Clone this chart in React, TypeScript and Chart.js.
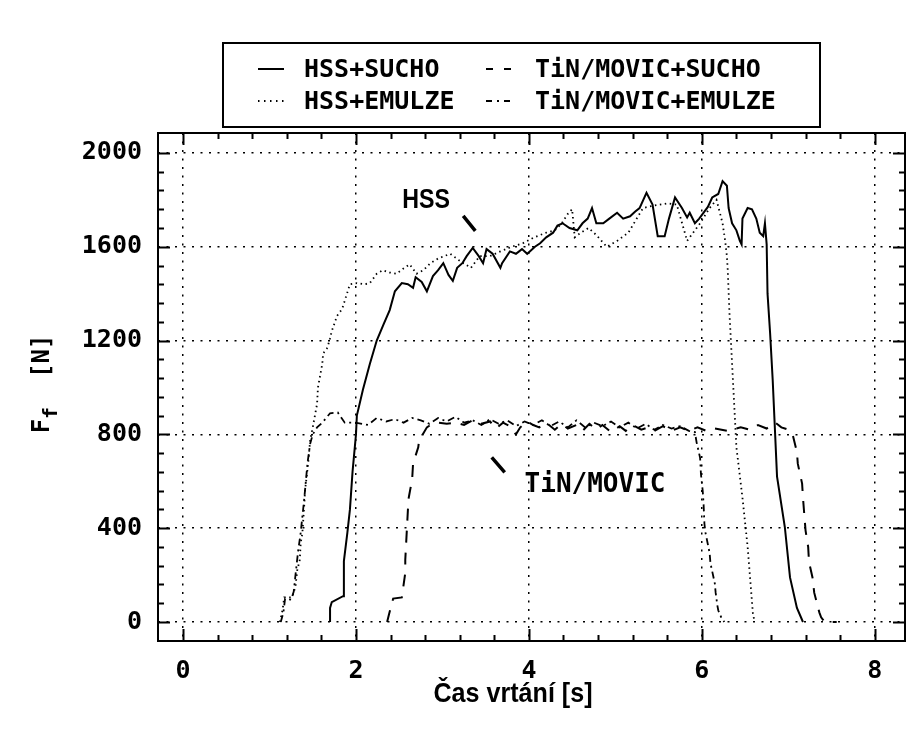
import React, { useEffect, useRef } from 'react';
import { Chart, registerables } from 'chart.js';

Chart.register(...registerables);

// ---------- axis ticks ----------
const X_TICKS = [0, 2, 4, 6, 8];
const Y_TICKS = [0, 400, 800, 1200, 1600, 2000];
const X_MINOR_STEP = 0.4;
const Y_MINOR_STEP = 80;
const X_TITLE = 'Čas vrtání [s]';

// ---------- series: HSS + SUCHO (solid) ----------
const hssSuchoT = [
  1.70, 1.70, 1.72, 1.85, 1.86, 1.90, 1.93, 1.96, 2.00, 2.01,
  2.08, 2.16, 2.24, 2.32, 2.39, 2.45, 2.53, 2.60, 2.66, 2.69,
  2.76, 2.82, 2.89, 2.95, 3.01, 3.07, 3.12, 3.17, 3.23, 3.28,
  3.35, 3.42, 3.47, 3.51, 3.58, 3.67, 3.69, 3.78, 3.85, 3.92,
  3.98, 4.01, 4.07, 4.13, 4.20, 4.28, 4.33, 4.39, 4.47, 4.56,
  4.62, 4.68, 4.73, 4.78, 4.86, 4.93, 5.02, 5.09, 5.17, 5.23,
  5.28, 5.36, 5.43, 5.49, 5.57, 5.62, 5.69, 5.77, 5.83, 5.86,
  5.92, 5.97, 6.01, 6.07, 6.12, 6.19, 6.24, 6.29, 6.31, 6.35,
  6.40, 6.44, 6.46, 6.47, 6.53, 6.58, 6.63, 6.67, 6.71, 6.73,
  6.75, 6.76, 6.79, 6.82, 6.87, 6.96, 7.02, 7.10, 7.17,
];
const hssSuchoF = [
  0, 60, 85, 110, 260, 380, 480, 640, 800, 880,
  990, 1100, 1200, 1270, 1330, 1410, 1445, 1440, 1425, 1470,
  1450, 1410, 1475, 1500, 1530, 1480, 1455, 1510, 1530, 1560,
  1595, 1560, 1530, 1590, 1570, 1510, 1530, 1580, 1570, 1590,
  1570, 1580, 1600, 1615, 1640, 1660, 1690, 1700, 1680, 1670,
  1700, 1720, 1765, 1700, 1700, 1720, 1745, 1720, 1730, 1750,
  1765, 1830, 1780, 1645, 1645, 1720, 1810, 1765, 1725, 1745,
  1700, 1720, 1740, 1770, 1810, 1825, 1880, 1860, 1765, 1700,
  1670, 1625, 1610, 1720, 1765, 1760, 1720, 1660, 1645, 1700,
  1610, 1400, 1230, 1030, 620, 405, 190, 60, 0,
];

// ---------- series: HSS + EMULZE (dotted) ----------
const hssEmulzeT = [
  1.12, 1.15, 1.17, 1.26, 1.30, 1.32, 1.35, 1.36, 1.38, 1.39,
  1.40, 1.41, 1.43, 1.45, 1.47, 1.50, 1.55, 1.56, 1.58, 1.61,
  1.62, 1.67, 1.70, 1.72, 1.78, 1.84, 1.87, 1.93, 2.01, 2.10,
  2.16, 2.24, 2.31, 2.39, 2.47, 2.54, 2.62, 2.70, 2.78, 2.86,
  2.95, 3.09, 3.20, 3.33, 3.43, 3.55, 3.67, 3.80, 3.93, 4.06,
  4.20, 4.30, 4.38, 4.45, 4.50, 4.53, 4.60, 4.69, 4.78, 4.84,
  4.90, 5.02, 5.15, 5.32, 5.44, 5.60, 5.71, 5.83, 5.98, 6.09,
  6.17, 6.24, 6.27, 6.29, 6.30, 6.32, 6.36, 6.40, 6.47, 6.53,
  6.59, 6.61,
];
const hssEmulzeF = [
  0, 50, 105, 105, 150, 220, 265, 335, 380, 435,
  490, 560, 620, 690, 775, 830, 930, 1000, 1040, 1100,
  1145, 1170, 1210, 1240, 1305, 1335, 1370, 1440, 1445, 1440,
  1445, 1485, 1500, 1490, 1485, 1505, 1525, 1485, 1500, 1530,
  1550, 1570, 1540, 1510, 1560, 1560, 1580, 1600, 1615, 1640,
  1660, 1670, 1700, 1740, 1760, 1640, 1660, 1680, 1650, 1625,
  1600, 1625, 1660, 1765, 1775, 1785, 1780, 1625, 1700, 1765,
  1800, 1700, 1625, 1560, 1500, 1315, 1030, 745, 530, 320,
  40, 0,
];

// ---------- series: TiN/MOVIC + SUCHO (dashed) ----------
const tinSuchoT = [
  2.36, 2.38, 2.43, 2.53, 2.54, 2.57, 2.57, 2.58, 2.59, 2.60,
  2.61, 2.65, 2.66, 2.72, 2.73, 2.78, 2.82, 2.88, 2.95, 3.05,
  3.15, 3.25, 3.35, 3.45, 3.55, 3.62, 3.70, 3.78, 3.85, 3.90,
  3.98, 4.05, 4.12, 4.20, 4.30, 4.38, 4.45, 4.55, 4.62, 4.70,
  4.78, 4.85, 4.95, 5.05, 5.12, 5.20, 5.30, 5.38, 5.45, 5.55,
  5.65, 5.75, 5.85, 5.95, 6.05, 6.15, 6.30, 6.45, 6.55, 6.65,
  6.75, 6.85, 6.92, 7.00, 7.05, 7.10, 7.11, 7.16, 7.17, 7.19,
  7.20, 7.23, 7.24, 7.28, 7.30, 7.36, 7.38, 7.42, 7.56,
];
const tinSuchoF = [
  0, 30, 100, 105, 130, 210, 265, 335, 405, 475,
  530, 610, 675, 745, 775, 805, 830, 845, 850, 845,
  850, 840, 860, 845, 855, 825, 850, 835, 800, 830,
  855, 840, 830, 850, 820, 845, 825, 840, 815, 845,
  820, 840, 810, 835, 815, 840, 820, 830, 815, 835,
  815, 830, 815, 830, 815, 825, 815, 830, 820, 840,
  825, 850, 830, 820, 800, 725, 675, 590, 530, 435,
  390, 320, 255, 190, 125, 40, 20, 0, 0,
];

// ---------- series: TiN/MOVIC + EMULZE (dash-dot) ----------
const tinEmulzeT = [
  1.13, 1.16, 1.18, 1.25, 1.28, 1.30, 1.33, 1.36, 1.38, 1.40,
  1.42, 1.44, 1.47, 1.50, 1.55, 1.61, 1.70, 1.79, 1.87, 1.99,
  2.14, 2.24, 2.35, 2.45, 2.55, 2.65, 2.75, 2.85, 2.95, 3.05,
  3.15, 3.25, 3.35, 3.45, 3.55, 3.65, 3.75, 3.85, 3.95, 4.05,
  4.15, 4.25, 4.35, 4.45, 4.55, 4.65, 4.75, 4.85, 4.95, 5.05,
  5.15, 5.25, 5.35, 5.45, 5.55, 5.65, 5.75, 5.85, 5.92, 5.94,
  5.98, 5.99, 6.01, 6.02, 6.03, 6.04, 6.09, 6.10, 6.15, 6.16,
  6.18, 6.19, 6.23, 6.26,
];
const tinEmulzeF = [
  0, 40, 100, 95, 130, 200, 300, 380, 450, 520,
  600, 680, 760, 800, 830, 850, 890, 893, 850, 850,
  840, 870, 855, 865, 850, 870, 860, 845, 870, 855,
  875, 850, 860, 840, 865, 845, 860, 835, 855, 840,
  860, 835, 855, 830, 860, 830, 850, 835, 855, 830,
  850, 825, 845, 820, 840, 825, 835, 815, 810, 765,
  700, 630, 560, 505, 420, 385, 295, 250, 165, 125,
  70, 50, 15, 0,
];

const SERIES_LABELS = ['HSS+SUCHO', 'HSS+EMULZE', 'TiN/MOVIC+SUCHO', 'TiN/MOVIC+EMULZE'];

// annotation labels (in data coordinates)
const ANNOT_TEXT = ['HSS', 'TiN/MOVIC'];
const ANNOT_X = [2.81, 3.95];
const ANNOT_Y = [1796, 583];
const POINTER_FROM = [[3.24, 1732], [3.57, 702]];
const POINTER_TO = [[3.38, 1668], [3.72, 638]];

const MONO = '"DejaVu Sans Mono", "Liberation Mono", monospace';
const SANS = '"Liberation Sans", Arial, sans-serif';

const toPts = (t: number[], f: number[]) => t.map((x, i) => ({ x, y: f[i] }));

const LEGEND_DASH: number[][] = [[], [1.5, 4.5], [7, 11], [6, 5, 2, 5]];

const legendPlugin = {
  id: 'boxLegend',
  afterDraw(chart: any) {
    const ctx = chart.ctx as CanvasRenderingContext2D;
    const ds = chart.data.datasets;
    ctx.save();
    ctx.strokeStyle = '#000';
    ctx.lineWidth = 2;
    ctx.strokeRect(223, 43, 597, 84);
    const colSample = [258, 486];
    const colText = [304, 535];
    const rowY = [69, 101];
    ds.forEach((d: any, i: number) => {
      const col = i < 2 ? 0 : 1;
      const row = i % 2;
      const y = rowY[row];
      ctx.beginPath();
      ctx.setLineDash(LEGEND_DASH[i]);
      ctx.lineWidth = i === 0 ? 2 : 1.8;
      ctx.moveTo(colSample[col], y);
      ctx.lineTo(colSample[col] + 26, y);
      ctx.stroke();
      ctx.setLineDash([]);
      ctx.fillStyle = '#000';
      ctx.font = `bold 25px ${MONO}`;
      ctx.textBaseline = 'middle';
      ctx.textAlign = 'left';
      ctx.fillText(d.label, colText[col], y + 1);
    });
    ctx.restore();
  },
};

const framePlugin = {
  id: 'frameTicks',
  afterDraw(chart: any) {
    const ctx = chart.ctx as CanvasRenderingContext2D;
    const a = chart.chartArea;
    const xs = chart.scales.x;
    const ys = chart.scales.y;
    ctx.save();
    ctx.strokeStyle = '#000';
    ctx.setLineDash([]);
    ctx.lineWidth = 2;
    ctx.strokeRect(a.left, a.top, a.right - a.left, a.bottom - a.top);
    ctx.beginPath();
    const nx = Math.round(X_TICKS[X_TICKS.length - 1] / X_MINOR_STEP);
    for (let i = 0; i <= nx; i++) {
      const v = i * X_MINOR_STEP;
      const major = X_TICKS.some((t) => Math.abs(t - v) < 1e-6);
      const len = major ? 12 : 6;
      const px = Math.round(xs.getPixelForValue(v)) + 0.5;
      ctx.moveTo(px, a.bottom);
      ctx.lineTo(px, a.bottom - len);
      ctx.moveTo(px, a.top);
      ctx.lineTo(px, a.top + len);
    }
    const ny = Math.round(Y_TICKS[Y_TICKS.length - 1] / Y_MINOR_STEP);
    for (let i = 0; i <= ny; i++) {
      const v = i * Y_MINOR_STEP;
      const major = Y_TICKS.some((t) => Math.abs(t - v) < 1e-6);
      const len = major ? 12 : 6;
      const py = Math.round(ys.getPixelForValue(v)) + 0.5;
      ctx.moveTo(a.left, py);
      ctx.lineTo(a.left + len, py);
      ctx.moveTo(a.right, py);
      ctx.lineTo(a.right - len, py);
    }
    ctx.lineWidth = 2;
    ctx.stroke();

    ctx.fillStyle = '#000';
    ctx.textBaseline = 'middle';

    // annotations
    ctx.save();
    ctx.translate(xs.getPixelForValue(ANNOT_X[0]), ys.getPixelForValue(ANNOT_Y[0]));
    ctx.scale(0.86, 1);
    ctx.font = `bold 27px ${SANS}`;
    ctx.textAlign = 'center';
    ctx.fillText(ANNOT_TEXT[0], 0, 0);
    ctx.restore();
    ctx.font = `bold 26px ${MONO}`;
    ctx.textAlign = 'left';
    ctx.fillText(ANNOT_TEXT[1], xs.getPixelForValue(ANNOT_X[1]), ys.getPixelForValue(ANNOT_Y[1]));
    ctx.lineWidth = 3.5;
    ctx.beginPath();
    for (let i = 0; i < POINTER_FROM.length; i++) {
      ctx.moveTo(xs.getPixelForValue(POINTER_FROM[i][0]), ys.getPixelForValue(POINTER_FROM[i][1]));
      ctx.lineTo(xs.getPixelForValue(POINTER_TO[i][0]), ys.getPixelForValue(POINTER_TO[i][1]));
    }
    ctx.stroke();

    // x-axis title
    ctx.save();
    ctx.translate(513, 695);
    ctx.scale(0.93, 1);
    ctx.font = `bold 27px ${SANS}`;
    ctx.textAlign = 'center';
    ctx.textBaseline = 'middle';
    ctx.fillText(X_TITLE, 0, 0);
    ctx.restore();

    // y-axis title with subscript
    ctx.save();
    ctx.translate(43, 384);
    ctx.rotate(-Math.PI / 2);
    const main = `bold 24px ${MONO}`;
    const sub = `bold 20px ${MONO}`;
    ctx.font = main;
    const wF = ctx.measureText('F').width;
    const wR = ctx.measureText('  [N]').width;
    ctx.font = sub;
    const wf = ctx.measureText('f').width;
    let x = -(wF + wf + wR) / 2;
    ctx.textAlign = 'left';
    ctx.textBaseline = 'middle';
    ctx.font = main;
    ctx.fillText('F', x, 0);
    x += wF;
    ctx.font = sub;
    ctx.fillText('f', x, 9);
    x += wf;
    ctx.font = main;
    ctx.fillText('  [N]', x, 0);
    ctx.restore();

    ctx.restore();
  },
};

export default function App() {
  const ref = useRef<HTMLCanvasElement>(null);
  useEffect(() => {
    if (!ref.current) return;
    const line = (label: string, data: any[], dash: number[], width: number) => ({
      label,
      data,
      borderColor: '#000',
      backgroundColor: '#000',
      borderWidth: width,
      borderDash: dash,
      pointRadius: 0,
      tension: 0,
      fill: false,
    });
    const chart = new Chart(ref.current, {
      type: 'line',
      data: {
        datasets: [
          line(SERIES_LABELS[0], toPts(hssSuchoT, hssSuchoF), [], 2),
          line(SERIES_LABELS[1], toPts(hssEmulzeT, hssEmulzeF), [1.5, 3.5], 1.8),
          line(SERIES_LABELS[2], toPts(tinSuchoT, tinSuchoF), [12, 10], 2),
          line(SERIES_LABELS[3], toPts(tinEmulzeT, tinEmulzeF), [7, 4, 2, 4], 1.8),
        ],
      },
      options: {
        responsive: false,
        animation: false,
        events: [],
        layout: { padding: { left: 0, top: 133, right: 13, bottom: 0 } },
        plugins: { legend: { display: false }, tooltip: { enabled: false }, title: { display: false } },
        scales: {
          x: {
            type: 'linear',
            min: -0.29,
            max: 8.35,
            afterBuildTicks: (s: any) => {
              s.ticks = X_TICKS.map((v) => ({ value: v }));
            },
            afterFit: (s: any) => {
              s.height = 90;
            },
            grid: { color: '#000', lineWidth: 1.5, drawTicks: false },
            border: { display: false, dash: [2, 6.5] },
            ticks: {
              color: '#000',
              padding: 15,
              maxRotation: 0,
              autoSkip: false,
              font: { family: MONO, size: 25, weight: 'bold' },
              callback: (v: any) => String(v),
            },
            title: { display: false },
          },
          y: {
            type: 'linear',
            min: -81,
            max: 2085,
            afterBuildTicks: (s: any) => {
              s.ticks = Y_TICKS.map((v) => ({ value: v }));
            },
            afterFit: (s: any) => {
              s.width = 158;
            },
            grid: { color: '#000', lineWidth: 1.5, drawTicks: false },
            border: { display: false, dash: [2, 6.5] },
            ticks: {
              color: '#000',
              padding: 16,
              autoSkip: false,
              font: { family: MONO, size: 25, weight: 'bold' },
              callback: (v: any) => String(v),
            },
            title: { display: false },
          },
        },
      } as any,
      plugins: [framePlugin, legendPlugin],
    });
    return () => chart.destroy();
  }, []);
  return (
    <div style={{ position: 'fixed', left: 0, top: 0, width: 918, height: 731, background: '#fff' }}>
      <canvas ref={ref} width={918} height={731} style={{ display: 'block', width: 918, height: 731 }} />
    </div>
  );
}
